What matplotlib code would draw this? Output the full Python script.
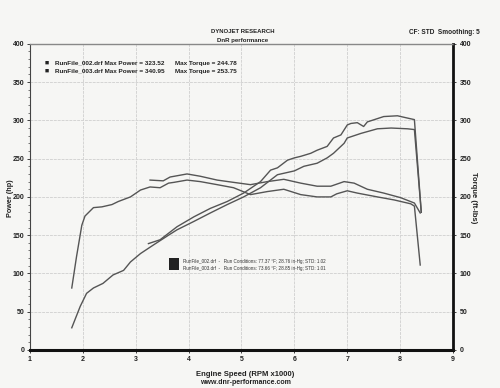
import matplotlib
matplotlib.use("Agg")
import matplotlib.pyplot as plt
from matplotlib.ticker import MultipleLocator

plt.rcParams["font.family"] = ["Liberation Sans", "DejaVu Sans"]

# ---- data ----
rpm_tq_a = [1.79, 1.88, 1.98, 2.04, 2.2, 2.36, 2.55, 2.67, 2.9, 3.09, 3.27, 3.46, 3.62, 3.72, 3.97,
            4.22, 4.54, 4.85, 5.17, 5.49, 5.8, 6.12, 6.43, 6.69, 6.8, 7.0, 7.19, 7.57, 7.89, 8.2, 8.27, 8.38]
tq_a = [81, 122, 163, 175, 186, 187, 190, 194, 200, 209, 213, 212, 218, 219, 222,
        220, 216, 212, 203, 207, 210, 203, 200, 200, 204, 208, 205, 200, 196, 191, 188, 111]

rpm_tq_b = [3.27, 3.52, 3.65, 3.97, 4.22, 4.54, 4.85, 5.17, 5.49, 5.8, 6.12, 6.43, 6.69, 6.94,
            7.13, 7.38, 7.69, 8.01, 8.27, 8.38]
tq_b = [222, 221, 226, 230, 227, 222, 219, 216, 220, 223, 218, 214, 214, 220,
        218, 210, 205, 199, 192, 179]

rpm_hp_a = [1.79, 1.95, 2.07, 2.2, 2.38, 2.57, 2.77, 2.9, 3.09, 3.33, 3.62, 3.78, 4.1, 4.41, 4.73,
            5.04, 5.36, 5.68, 6.0, 6.18, 6.43, 6.62, 6.74, 6.94, 7.0, 7.26, 7.57, 7.83, 8.14, 8.27, 8.4]
hp_a = [29, 57, 74, 81, 87, 98, 104, 115, 126, 137, 150, 157, 168, 179, 190,
        200, 212, 229, 234, 240, 244, 251, 257, 270, 277, 283, 289, 290, 289, 288, 180]

rpm_hp_b = [3.24, 3.46, 3.78, 4.1, 4.41, 4.73, 5.04, 5.36, 5.55, 5.68, 5.87, 6.0, 6.12, 6.31, 6.43,
            6.62, 6.74, 6.88, 7.0, 7.07, 7.19, 7.31, 7.38, 7.69, 7.95, 8.14, 8.27, 8.4]
hp_b = [139, 144, 161, 174, 185, 194, 205, 220, 235, 238, 248, 251, 253, 257, 261,
        266, 277, 281, 294, 296, 297, 292, 298, 305, 306, 303, 301, 180]

x_ticks = [1, 2, 3, 4, 5, 6, 7, 8, 9]
y_ticks = [0, 50, 100, 150, 200, 250, 300, 350, 400]

legend_top = ["RunFile_002.drf Max Power = 323.52", "RunFile_003.drf Max Power = 340.95"]
legend_torque = ["Max Torque = 244.78", "Max Torque = 253.75"]
legend_cond = ["RunFile_002.drf  -   Run Conditions: 77.37 \u00b0F; 28.76 in-Hg; STD: 1.02",
               "RunFile_003.drf  -   Run Conditions: 73.66 \u00b0F; 28.85 in-Hg; STD: 1.01"]

# ---- figure ----
bg = "#f6f6f4"
line_c = "#555555"
txt_c = "#222222"
fig = plt.figure(figsize=(5, 3.88), dpi=100, facecolor=bg)
ax = fig.add_axes([0.06, 0.098, 0.846, 0.789], facecolor=bg)
ax.set_xlim(1, 9)
ax.set_ylim(0, 400)

for r, v in [(rpm_tq_a, tq_a), (rpm_tq_b, tq_b), (rpm_hp_a, hp_a), (rpm_hp_b, hp_b)]:
    ax.plot(r, v, color=line_c, lw=1.0)

ax.set_xticks(x_ticks)
ax.set_yticks(y_ticks)
ax.yaxis.set_minor_locator(MultipleLocator(10))
ax.grid(True, which="major", color="#d4d4d4", lw=0.7, ls=(0, (3, 1)))
ax.tick_params(axis="both", which="major", labelsize=5, length=2, width=0.6, pad=2, colors=txt_c)
ax.tick_params(axis="y", which="minor", length=1.5, width=0.5, colors="#444444")
for lab in ax.get_xticklabels() + ax.get_yticklabels():
    lab.set_fontweight("bold")

ax.spines["left"].set_color("#444444")
ax.spines["left"].set_linewidth(0.8)
ax.spines["top"].set_color("#888888")
ax.spines["top"].set_linewidth(1.0)
ax.spines["bottom"].set_color("#111111")
ax.spines["bottom"].set_linewidth(2.2)
ax.spines["right"].set_color("#111111")
ax.spines["right"].set_linewidth(2.0)

ax2 = ax.twinx()
ax2.set_ylim(0, 400)
ax2.set_yticks(y_ticks)
ax2.tick_params(axis="y", labelsize=5, length=2, width=0.6, pad=3, colors=txt_c)
for lab in ax2.get_yticklabels():
    lab.set_fontweight("bold")
for s in ax2.spines.values():
    s.set_visible(False)

fig.text(0.021, 0.49, "Power (hp)", fontsize=5.2, fontweight="bold", rotation=90,
         ha="center", va="center", color=txt_c)
fig.text(0.948, 0.49, "Torque (ft-lbs)", fontsize=5.5, fontweight="bold", rotation=270,
         ha="center", va="center", color=txt_c)
fig.text(0.49, 0.036, "Engine Speed (RPM x1000)", fontsize=5.5, fontweight="bold",
         ha="center", va="center", color=txt_c)
fig.text(0.49, 0.015, "www.dnr-performance.com", fontsize=5, fontweight="bold",
         ha="center", va="center", color=txt_c)

fig.text(0.486, 0.918, "DYNOJET RESEARCH", fontsize=4.3, fontweight="bold", ha="center", va="center", color=txt_c)
fig.text(0.486, 0.896, "DnR performance", fontsize=4.4, fontweight="bold", ha="center", va="center", color=txt_c)
fig.text(0.96, 0.915, "CF: STD  Smoothing: 5", fontsize=4.7, fontweight="bold", ha="right", va="center", color=txt_c)

# top legend
for i in range(2):
    yy = 0.837 - i * 0.021
    fig.text(0.090, yy, "\u25a0", fontsize=5, ha="left", va="center", color=txt_c)
    fig.text(0.110, yy, legend_top[i], fontsize=4.6, fontweight="bold", ha="left", va="center", color=txt_c)
    fig.text(0.350, yy, legend_torque[i], fontsize=4.6, fontweight="bold", ha="left", va="center", color=txt_c)

# run conditions legend
fig.add_artist(plt.Rectangle((0.337, 0.305), 0.021, 0.03, transform=fig.transFigure,
                             facecolor=txt_c, edgecolor="none"))
for i in range(2):
    yy = 0.325 - i * 0.018
    fig.text(0.366, yy, legend_cond[i], fontsize=3.3, ha="left", va="center", color="#333333")

fig.savefig("out.png", dpi=100, facecolor=bg)
